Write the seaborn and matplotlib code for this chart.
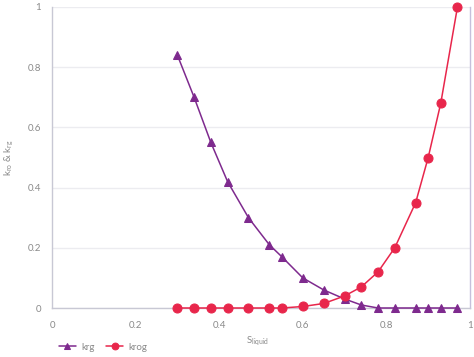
import matplotlib
matplotlib.use("Agg")
import matplotlib.pyplot as plt
import seaborn as sns
import pandas as pd

s_liquid = [0.30, 0.34, 0.38, 0.42, 0.47, 0.52, 0.55, 0.60, 0.65, 0.70, 0.74, 0.78, 0.82, 0.87, 0.90, 0.93, 0.97]
krg = [0.84, 0.70, 0.55, 0.42, 0.30, 0.21, 0.17, 0.10, 0.06, 0.03, 0.01, 0.0, 0.0, 0.0, 0.0, 0.0, 0.0]
krog = [0.0, 0.0, 0.0, 0.0, 0.0, 0.0, 0.0, 0.005, 0.015, 0.04, 0.07, 0.12, 0.20, 0.35, 0.50, 0.68, 1.0]
xticks = [0, 0.2, 0.4, 0.6, 0.8, 1]
yticks = [0, 0.2, 0.4, 0.6, 0.8, 1]
xtick_labels = ["0", "0.2", "0.4", "0.6", "0.8", "1"]
ytick_labels = ["0", "0.2", "0.4", "0.6", "0.8", "1"]

sns.set_theme(style="white")
plt.rcParams["font.family"] = ["Lato", "DejaVu Sans"]

purple = "#7e2a8e"
red = "#e8264b"
textc = "#8a8a8a"

df = pd.DataFrame({"x": s_liquid, "krg": krg, "krog": krog})

fig = plt.figure(figsize=(4.74, 3.57), dpi=100)
ax = fig.add_axes([52/474, 1-308/357, (470-52)/474, (308-7)/357])

sns.lineplot(data=df, x="x", y="krg", ax=ax, color=purple, marker="^", markersize=6,
             markeredgecolor=purple, linewidth=1.1, label="krg", clip_on=False, zorder=3)
sns.lineplot(data=df, x="x", y="krog", ax=ax, color=red, marker="o", markersize=6.5,
             markeredgecolor=red, linewidth=1.1, label="krog", clip_on=False, zorder=4)

ax.set_xlim(0, 1)
ax.set_ylim(0, 1)
ax.set_xticks(xticks)
ax.set_xticklabels(xtick_labels)
ax.set_yticks(yticks)
ax.set_yticklabels(ytick_labels)
ax.tick_params(axis="both", labelsize=7, colors=textc, length=3, width=0.8, pad=6)
ax.tick_params(axis="y", length=0, pad=8)
ax.yaxis.grid(True, color="#ececf0", linewidth=1)
ax.xaxis.grid(False)

ax.spines["top"].set_visible(False)
for side in ["left", "bottom"]:
    ax.spines[side].set_color("#c8c8d4")
    ax.spines[side].set_linewidth(1)
ax.spines["right"].set_color("#c6c0dc")
ax.spines["right"].set_linewidth(1)

ax.set_xlabel("S$_{\\mathregular{liquid}}$", fontsize=7, color=textc)
ax.xaxis.set_label_coords((258-52)/418, -0.09)
ax.set_ylabel("k$_{\\mathregular{ro}}$ & k$_{\\mathregular{rg}}$", fontsize=7, color=textc, labelpad=8)

ax.get_legend().remove()
handles, labels = ax.get_legend_handles_labels()
leg = fig.legend(handles, labels, loc="lower left", bbox_to_anchor=(0.105, -0.01), ncol=2,
                 frameon=False, fontsize=7, handlelength=1.8, columnspacing=1.2, handletextpad=0.5,
                 markerscale=0.75)
for t in leg.get_texts():
    t.set_color(textc)

fig.savefig("out.png", dpi=100)
